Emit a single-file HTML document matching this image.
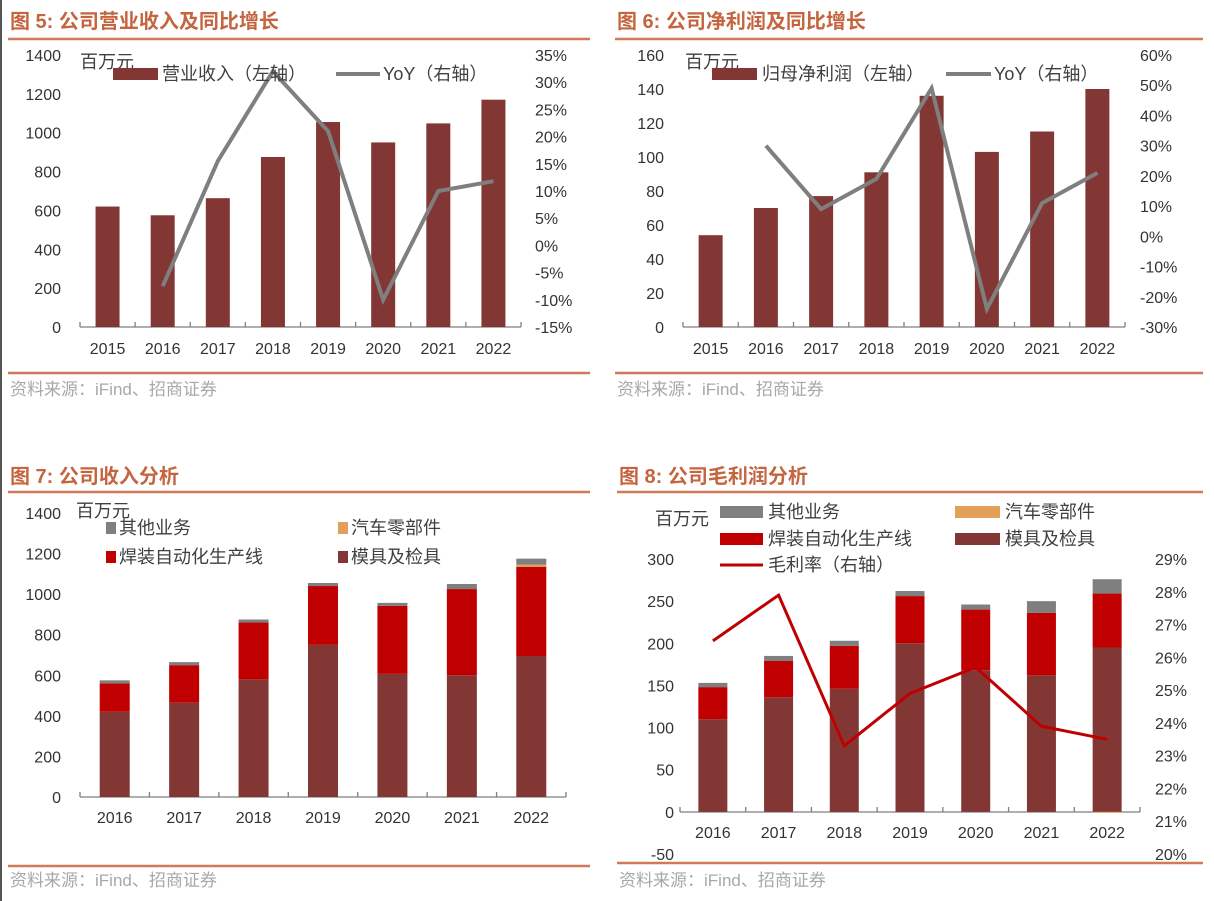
<!DOCTYPE html>
<html><head><meta charset="utf-8">
<style>
html,body{margin:0;padding:0;background:#fff;}
svg{display:block;font-family:"Liberation Sans","Noto Sans CJK SC",sans-serif;}
</style></head>
<body>
<svg id="root" width="1214" height="901" viewBox="0 0 1214 901" xmlns="http://www.w3.org/2000/svg">
<rect x="0" y="0" width="1214" height="901" fill="#fff"/>
<line x1="1" y1="0" x2="1" y2="901" stroke="#555" stroke-width="2"/>
</svg>
<script>
// ---------- data ----------
const years5 = ['2015','2016','2017','2018','2019','2020','2021','2022'];
const revenue5 = [620, 575, 663, 875, 1055, 950, 1048, 1170];
const yoy5 = [null, -7.5, 15.5, 32, 21, -10, 10, 11.8];
const leftTicks5 = [0,200,400,600,800,1000,1200,1400];
const rightTicks5 = [-15,-10,-5,0,5,10,15,20,25,30,35];

const years6 = ['2015','2016','2017','2018','2019','2020','2021','2022'];
const profit6 = [54, 70, 77, 91, 136, 103, 115, 140];
const yoy6 = [null, 30, 9, 19, 49, -24, 11, 21];
const leftTicks6 = [0,20,40,60,80,100,120,140,160];
const rightTicks6 = [-30,-20,-10,0,10,20,30,40,50,60];

const years7 = ['2016','2017','2018','2019','2020','2021','2022'];
const mould7 = [420, 465, 580, 750, 607, 600, 695];
const welding7 = [140, 185, 280, 290, 335, 425, 440];
const parts7 = [0, 0, 0, 0, 0, 0, 10];
const other7 = [15, 15, 15, 15, 15, 25, 30];
const leftTicks7 = [0,200,400,600,800,1000,1200,1400];

const years8 = ['2016','2017','2018','2019','2020','2021','2022'];
const mould8 = [110, 136, 146, 200, 168, 162, 195];
const welding8 = [38, 43, 51, 56, 72, 74, 64];
const parts8 = [0, 0, 0, 0, 0, 0, 1];
const other8 = [5, 6, 6, 6, 6, 14, 17];
const margin8 = [26.5, 27.9, 23.3, 24.9, 25.7, 23.9, 23.5];
const leftTicks8 = [-50,0,50,100,150,200,250,300];
const rightTicks8 = [20,21,22,23,24,25,26,27,28,29];

// ---------- helpers ----------
const NS='http://www.w3.org/2000/svg';
const root=document.getElementById('root');
const C_TITLE='#c4653f', C_RULE='#d07a5a', C_BAR='#833735', C_RED='#c00000', C_GRAY='#7f7f7f', C_ORANGE='#e3a05a', C_TXT='#333';
function mk(tag, at, parent){const e=document.createElementNS(NS,tag);for(const k in at)e.setAttribute(k,at[k]);(parent||root).appendChild(e);return e;}
function txt(x,y,s,size,anchor,fill,weight){const e=mk('text',{x:x,y:y,'font-size':size,'text-anchor':anchor||'start',fill:fill||C_TXT,'font-weight':weight||'normal'});e.textContent=s;return e;}
function linear(d0,d1,r0,r1){return v=>r0+(v-d0)*(r1-r0)/(d1-d0);}

function frame(x0,x1,titleY,ruleY,title,srcRuleY,srcY,key){
  let t=txt(x0+2,titleY,title,20,'start',C_TITLE,'bold');
  
  
  let r=mk('line',{x1:x0,y1:ruleY,x2:x1,y2:ruleY,stroke:C_RULE,'stroke-width':2.5});
  
  
  let r2=mk('line',{x1:x0,y1:srcRuleY,x2:x1,y2:srcRuleY,stroke:C_RULE,'stroke-width':2.5});
  
  
  let s=txt(x0+2,srcY,'资料来源：iFind、招商证券',17,'start','#a8a8a8');
  
  
}
function xAxis(key,ax0,ax1,y0,cats,labY){
  const n=cats.length, step=(ax1-ax0)/n;
  let a=mk('line',{x1:ax0,y1:y0,x2:ax1,y2:y0,stroke:'#7f7f7f','stroke-width':1.3});
  
  
  for(let i=0;i<=n;i++){
    let tk=mk('line',{x1:ax0+i*step,y1:y0,x2:ax0+i*step,y2:y0-5,stroke:'#7f7f7f','stroke-width':1.3});
    
    
  }
  cats.forEach((c,i)=>{
    let l=txt(ax0+step*(i+0.5),labY,c,16,'middle');
    
    
  });
  return i=>ax0+step*(i+0.5);
}
function yTicks(key,side,ticks,scale,x,fmt,anchor){
  ticks.forEach(v=>{
    let l=txt(x,scale(v)+6,fmt(v),16,anchor);
    
    
  });
}
function bar(key,cx,w,y0v,y1v,sc,color,name){
  const ya=sc(y0v), yb=sc(y1v);
  let b=mk('rect',{x:cx-w/2,y:Math.min(ya,yb),width:w,height:Math.abs(ya-yb),fill:color});
  
  
  return b;
}
function polyline(pts,color,width,name){
  let d=pts.map((p,i)=>(i?'L':'M')+p[0].toFixed(1)+','+p[1].toFixed(1)).join('');
  let p=mk('path',{d:d,fill:'none',stroke:color,'stroke-width':width,'stroke-linejoin':'miter'});
  
  
}
function swatch(x,y,w,h,color,name){
  let s=mk('rect',{x:x,y:y-h/2,width:w,height:h,fill:color});
  
  
}
function lgText(x,y,s,name){
  let t=txt(x,y+6,s,18,'start','#404040');
  
  
}
function unitLabel(x,y,name){
  let t=txt(x,y,'百万元',18,'start','#404040');
  
  
}

// ---------- Chart 5 ----------
(function(){
  const key='fig5';
  frame(8,590,28,39,'图 5:  公司营业收入及同比增长',373,395,key);
  const yL=linear(0,1400,327,55), yR=linear(-15,35,327,55);
  yTicks(key,'left',leftTicks5,yL,61,v=>String(v),'end');
  yTicks(key,'right',rightTicks5,yR,535,v=>v+'%','start');
  const xc=xAxis(key,80,521,327,years5,354);
  revenue5.forEach((v,i)=>bar(key,xc(i),24,0,v,yL,C_BAR,'revenue-bar-'+years5[i]));
  const pts=[];yoy5.forEach((v,i)=>{if(v!==null)pts.push([xc(i),yR(v)]);});
  polyline(pts,C_GRAY,4,'revenue-yoy-line');
  unitLabel(80,68,key+'-unit-label');
  swatch(113,74,45,12,C_BAR,'legend-revenue-swatch');
  lgText(162,74,'营业收入（左轴）','legend-revenue');
  swatch(336,74,44,4,C_GRAY,'legend-yoy-swatch');
  lgText(383,74,'YoY（右轴）','legend-yoy');
})();

// ---------- Chart 6 ----------
(function(){
  const key='fig6';
  frame(615,1203,28,39,'图 6:  公司净利润及同比增长',373,395,key);
  const yL=linear(0,160,327,55), yR=linear(-30,60,327,55);
  yTicks(key,'left',leftTicks6,yL,664,v=>String(v),'end');
  yTicks(key,'right',rightTicks6,yR,1140,v=>v+'%','start');
  const xc=xAxis(key,683,1125,327,years6,354);
  profit6.forEach((v,i)=>bar(key,xc(i),24,0,v,yL,C_BAR,'profit-bar-'+years6[i]));
  const pts=[];yoy6.forEach((v,i)=>{if(v!==null)pts.push([xc(i),yR(v)]);});
  polyline(pts,C_GRAY,4,'profit-yoy-line');
  unitLabel(685,68,key+'-unit-label');
  swatch(712,74,45,12,C_BAR,'legend-profit-swatch');
  lgText(762,74,'归母净利润（左轴）','legend-profit');
  swatch(946,74,45,4,C_GRAY,'legend-yoy6-swatch');
  lgText(994,74,'YoY（右轴）','legend-yoy6');
})();

// ---------- Chart 7 ----------
(function(){
  const key='fig7';
  frame(8,590,483,492,'图 7:  公司收入分析',866,886,key);
  const yL=linear(0,1400,797,513);
  yTicks(key,'left',leftTicks7,yL,61,v=>String(v),'end');
  const xc=xAxis(key,80,566,797,years7,823);
  years7.forEach((yr,i)=>{
    let b=0;
    bar(key,xc(i),30,b,b+mould7[i],yL,C_BAR,'mould-bar-'+yr); b+=mould7[i];
    bar(key,xc(i),30,b,b+welding7[i],yL,C_RED,'welding-bar-'+yr); b+=welding7[i];
    if(parts7[i]>0){bar(key,xc(i),30,b,b+parts7[i],yL,C_ORANGE,'parts-bar-'+yr); b+=parts7[i];}
    bar(key,xc(i),30,b,b+other7[i],yL,C_GRAY,'other-bar-'+yr);
  });
  unitLabel(76,517,key+'-unit-label');
  swatch(106,528,10,12,C_GRAY,'legend-other7-swatch');
  lgText(119,528,'其他业务','legend-other7');
  swatch(338,528,10,12,C_ORANGE,'legend-parts7-swatch');
  lgText(351,528,'汽车零部件','legend-parts7');
  swatch(106,557,10,12,C_RED,'legend-welding7-swatch');
  lgText(119,557,'焊装自动化生产线','legend-welding7');
  swatch(338,557,10,12,C_BAR,'legend-mould7-swatch');
  lgText(351,557,'模具及检具','legend-mould7');
})();

// ---------- Chart 8 ----------
(function(){
  const key='fig8';
  frame(617,1203,483,492,'图 8:  公司毛利润分析',863,886,key);
  const yL=linear(-50,300,854,559), yR=linear(20,29,854,559);
  yTicks(key,'left',leftTicks8,yL,674,v=>String(v),'end');
  yTicks(key,'right',rightTicks8,yR,1155,v=>v+'%','start');
  const xc=xAxis(key,680,1140,812,years8,838);
  years8.forEach((yr,i)=>{
    let b=0;
    bar(key,xc(i),29,b,b+mould8[i],yL,C_BAR,'gp-mould-bar-'+yr); b+=mould8[i];
    bar(key,xc(i),29,b,b+welding8[i],yL,C_RED,'gp-welding-bar-'+yr); b+=welding8[i];
    if(parts8[i]>0){bar(key,xc(i),29,0,-parts8[i],yL,C_ORANGE,'gp-parts-bar-'+yr);}
    bar(key,xc(i),29,b,b+other8[i],yL,C_GRAY,'gp-other-bar-'+yr);
  });
  polyline(margin8.map((v,i)=>[xc(i),yR(v)]),C_RED,3,'gross-margin-line');
  unitLabel(655,525,key+'-unit-label');
  swatch(720,512,43,12,C_GRAY,'legend-other8-swatch');
  lgText(768,512,'其他业务','legend-other8');
  swatch(955,512,45,12,C_ORANGE,'legend-parts8-swatch');
  lgText(1005,512,'汽车零部件','legend-parts8');
  swatch(720,539,43,12,C_RED,'legend-welding8-swatch');
  lgText(768,539,'焊装自动化生产线','legend-welding8');
  swatch(955,539,45,12,C_BAR,'legend-mould8-swatch');
  lgText(1005,539,'模具及检具','legend-mould8');
  swatch(720,565,43,3,C_RED,'legend-margin-swatch');
  lgText(768,565,'毛利率（右轴）','legend-margin');
})();
</script>
</body></html>
